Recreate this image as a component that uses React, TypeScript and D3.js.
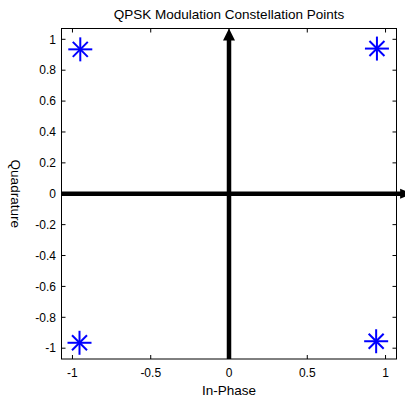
import React from "react";
import * as d3 from "d3";

const pointsI = [-0.95, 0.945, -0.955, 0.94];
const pointsQ = [0.935, 0.94, -0.965, -0.955];
const xTicks = [-1, -0.5, 0, 0.5, 1];
const yTicks = [-1, -0.8, -0.6, -0.4, -0.2, 0, 0.2, 0.4, 0.6, 0.8, 1];
const xDomain = [-1.07, 1.07];
const yDomain = [-1.07, 1.07];
const arrowTipX = 1.17;

const W = 405, H = 400;
const L = 61.5, R = 396.5, T = 28.5, B = 359;
const FONT = "'Liberation Sans', Arial, sans-serif";

export default function App() {
  const x = d3.scaleLinear().domain(xDomain).range([L, R]);
  const y = d3.scaleLinear().domain(yDomain).range([B, T]);
  const tl = 4;
  const fmt = (v: number) => (v === 0 ? "0" : String(v));
  const star = (cx: number, cy: number, i: number) => {
    const r = 12, d = 7.5;
    return (
      <g key={i} stroke="#0000ff" strokeWidth={2}>
        <line x1={cx - r} y1={cy} x2={cx + r} y2={cy} />
        <line x1={cx} y1={cy - r} x2={cx} y2={cy + r} />
        <line x1={cx - d} y1={cy - d} x2={cx + d} y2={cy + d} />
        <line x1={cx - d} y1={cy + d} x2={cx + d} y2={cy - d} />
      </g>
    );
  };
  const x0 = x(0), y0 = y(0);
  const hTip = x(arrowTipX);
  return (
    <div style={{ position: "fixed", left: 0, top: 0, width: W, height: H, background: "#fff" }}>
      <svg width={W} height={H} style={{ display: "block" }} fontFamily={FONT}>
        <rect x={0} y={0} width={W} height={H} fill="#fff" />
        {/* ticks */}
        {xTicks.map((t, i) => (
          <g key={"xt" + i} stroke="#000" strokeWidth={1}>
            <line x1={x(t)} y1={B} x2={x(t)} y2={B - tl} />
            <line x1={x(t)} y1={T} x2={x(t)} y2={T + tl} />
          </g>
        ))}
        {yTicks.map((t, i) => (
          <g key={"yt" + i} stroke="#000" strokeWidth={1}>
            <line x1={L} y1={y(t)} x2={L + tl} y2={y(t)} />
            <line x1={R} y1={y(t)} x2={R - tl} y2={y(t)} />
          </g>
        ))}
        <rect x={L} y={T} width={R - L} height={B - T} fill="none" stroke="#000" strokeWidth={1} />
        {/* tick labels */}
        {xTicks.map((t, i) => (
          <text key={"xl" + i} x={x(t)} y={376.5} textAnchor="middle" fontSize={12}>
            {fmt(t)}
          </text>
        ))}
        {yTicks.map((t, i) => (
          <text key={"yl" + i} x={56} y={y(t) + 4.3} textAnchor="end" fontSize={12}>
            {fmt(t)}
          </text>
        ))}
        {/* arrows */}
        <line x1={x0} y1={B} x2={x0} y2={T + 11} stroke="#000" strokeWidth={4.5} />
        <path d={`M${x0},${T} L${x0 - 6},${T + 12} L${x0 + 6},${T + 12} Z`} fill="#000" />
        <line x1={L} y1={y0} x2={hTip - 11} y2={y0} stroke="#000" strokeWidth={4.5} />
        <path d={`M${hTip},${y0} L${hTip - 12},${y0 - 5} L${hTip - 12},${y0 + 5} Z`} fill="#000" />
        {/* points */}
        {pointsI.map((v, i) => star(x(v), y(pointsQ[i]), i))}
        {/* labels */}
        <text x={229} y={19} textAnchor="middle" fontSize={13.5}>
          QPSK Modulation Constellation Points
        </text>
        <text x={229} y={395} textAnchor="middle" fontSize={13.5}>
          In-Phase
        </text>
        <text transform={`translate(11,${y0}) rotate(90)`} textAnchor="middle" fontSize={13.5}>
          Quadrature
        </text>
      </svg>
    </div>
  );
}
